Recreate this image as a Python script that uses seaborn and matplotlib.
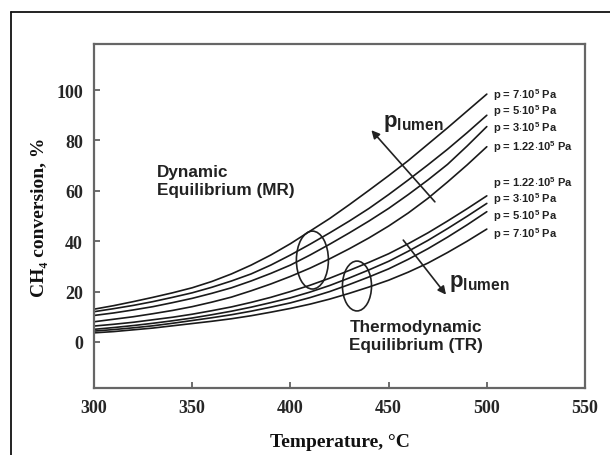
import numpy as np
import pandas as pd
import matplotlib
matplotlib.use("Agg")
import matplotlib.pyplot as plt
from matplotlib.patches import Ellipse
from matplotlib.lines import Line2D
import seaborn as sns

# ---- data ----
temperature = [300, 310, 320, 330, 340, 350, 360, 370, 380, 390, 400,
               410, 420, 430, 440, 450, 460, 470, 480, 490, 500]
mr_7e5 = [13.0, 14.4, 16.0, 17.7, 19.5, 21.5, 24.0, 27.0, 30.5, 34.5, 39.0,
          44.0, 49.0, 54.5, 60.2, 66.0, 72.0, 78.5, 85.0, 91.7, 98.4]
mr_5e5 = [12.0, 13.2, 14.5, 16.0, 17.7, 19.5, 21.7, 24.2, 27.0, 30.5, 34.5,
          38.8, 43.3, 48.0, 53.0, 58.5, 64.3, 70.3, 76.5, 83.1, 90.0]
mr_3e5 = [10.5, 11.5, 12.7, 14.0, 15.6, 17.3, 19.3, 21.5, 24.2, 27.2, 30.5,
          34.5, 38.8, 43.3, 48.0, 53.0, 58.5, 64.3, 70.5, 77.8, 85.5]
mr_122e5 = [8.0, 9.0, 10.0, 11.2, 12.5, 14.0, 15.8, 17.8, 20.3, 23.0, 26.0,
            29.3, 33.0, 37.0, 41.3, 46.0, 51.2, 57.0, 63.5, 70.3, 77.5]
tr_122e5 = [6.3, 7.0, 7.8, 8.8, 9.8, 11.0, 12.4, 13.9, 15.7, 17.7, 20.0,
            22.5, 25.3, 28.4, 31.6, 35.0, 39.0, 43.3, 48.0, 52.9, 58.0]
tr_3e5 = [5.0, 5.7, 6.5, 7.4, 8.4, 9.5, 10.8, 12.2, 13.8, 15.6, 17.5,
          19.8, 22.4, 25.4, 28.6, 32.0, 36.0, 40.3, 45.0, 49.9, 55.0]
tr_5e5 = [4.3, 4.9, 5.6, 6.4, 7.4, 8.5, 9.6, 10.8, 12.2, 13.8, 15.5,
          17.6, 20.0, 22.8, 25.8, 29.0, 32.8, 37.0, 41.6, 46.5, 51.7]
tr_7e5 = [3.6, 4.1, 4.8, 5.5, 6.4, 7.3, 8.2, 9.2, 10.4, 11.8, 13.3,
          15.0, 17.0, 19.3, 21.8, 24.5, 27.7, 31.3, 35.5, 40.0, 44.8]

series_names = ["MR 7e5", "MR 5e5", "MR 3e5", "MR 1.22e5",
                "TR 1.22e5", "TR 3e5", "TR 5e5", "TR 7e5"]
series_values = [mr_7e5, mr_5e5, mr_3e5, mr_122e5,
                 tr_122e5, tr_3e5, tr_5e5, tr_7e5]

mr_labels = [r"p = 7$\cdot$10$^{5}$ Pa", r"p = 5$\cdot$10$^{5}$ Pa",
             r"p = 3$\cdot$10$^{5}$ Pa", r"p = 1.22$\cdot$10$^{5}$ Pa"]
tr_labels = [r"p = 1.22$\cdot$10$^{5}$ Pa", r"p = 3$\cdot$10$^{5}$ Pa",
             r"p = 5$\cdot$10$^{5}$ Pa", r"p = 7$\cdot$10$^{5}$ Pa"]
mr_label_y = [98.6, 92.0, 85.3, 77.6]
tr_label_y = [63.6, 57.1, 50.3, 43.3]

x_ticks = [300, 350, 400, 450, 500, 550]
y_ticks = [0, 20, 40, 60, 80, 100]

rows = []
for name, vals in zip(series_names, series_values):
    for t, v in zip(temperature, vals):
        rows.append({"T": t, "conv": v, "series": name})
df = pd.DataFrame(rows)

sns.set_style("ticks")
plt.rcParams["mathtext.fontset"] = "custom"
plt.rcParams["mathtext.rm"] = "Liberation Sans:bold"
plt.rcParams["mathtext.bf"] = "Liberation Sans:bold"
plt.rcParams["mathtext.it"] = "Liberation Sans:bold"
plt.rcParams["mathtext.default"] = "rm"

fig = plt.figure(figsize=(6.1, 4.56), dpi=100)
ax = fig.add_axes([94/610, 1-389/456, (585-94)/610, (389-45)/456])

sns.lineplot(data=df, x="T", y="conv", hue="series", hue_order=series_names,
             palette=["#1a1a1a"]*8, linewidth=1.2, legend=False, ax=ax)

ax.set_xlim(300, 550)
ax.set_ylim(-18.3, 118.3)
ax.set_xticks(x_ticks)
ax.set_yticks(y_ticks)
serif = ["Liberation Serif", "DejaVu Serif"]
ax.set_xticklabels([str(v) for v in x_ticks], fontfamily=serif, fontweight="bold", fontsize=13)
ax.set_yticklabels([str(v) for v in y_ticks], fontfamily=serif, fontweight="bold", fontsize=13)
ax.tick_params(direction="in", length=4, width=1.2, color="#555555", pad=8)
for s in ax.spines.values():
    s.set_color("#666666")
    s.set_linewidth(1.6)

ax.set_xlabel("Temperature, °C", fontfamily=serif, fontweight="bold", fontsize=14, labelpad=12)
ax.set_ylabel("CH\u2084 conversion, %", fontfamily=serif, fontweight="bold", fontsize=14, labelpad=6)
ax.xaxis.label.set_color("#111111")
ax.yaxis.label.set_color("#111111")

sans = ["Liberation Sans", "DejaVu Sans"]
for lab, y in zip(mr_labels, mr_label_y):
    ax.text(503, y, lab, fontfamily=sans, fontweight="bold", fontsize=8, va="center", ha="left", color="#222222")
for lab, y in zip(tr_labels, tr_label_y):
    ax.text(503, y, lab, fontfamily=sans, fontweight="bold", fontsize=8, va="center", ha="left", color="#222222")

ax.text(332, 70.5, "Dynamic\nEquilibrium (MR)", fontfamily=sans, fontweight="bold",
        fontsize=12.3, va="top", ha="left", color="#222222", linespacing=1.25)
ax.text(430, 9.0, "Thermodynamic\nEquilibrium (TR)", fontfamily=sans, fontweight="bold",
        fontsize=12.3, va="top", ha="left", color="#222222", linespacing=1.25)

ax.add_patch(Ellipse((411.2, 32.5), 16.3, 23, fill=False, edgecolor="#222222", lw=1.2))
ax.add_patch(Ellipse((433.9, 22.2), 14.8, 19.8, fill=False, edgecolor="#222222", lw=1.2))

ax.annotate("", xy=(440.3, 84.9), xytext=(474.5, 54.8),
            arrowprops=dict(arrowstyle="-|>", color="#222222", lw=1.2, mutation_scale=12))
ax.annotate("", xy=(480.1, 17.9), xytext=(456.6, 41.3),
            arrowprops=dict(arrowstyle="-|>", color="#222222", lw=1.2, mutation_scale=12))
ax.text(447, 87, r"p$_{\mathrm{lumen}}$", fontfamily=sans, fontweight="bold",
        fontsize=16, va="center", ha="left", color="#222222")
ax.text(480.5, 23.5, r"p$_{\mathrm{lumen}}$", fontfamily=sans, fontweight="bold",
        fontsize=16, va="center", ha="left", color="#222222")

# outer frame (cropped at right and bottom)
fig.add_artist(Line2D([11/610, 11/610], [0, 1-13/456], transform=fig.transFigure, color="#111111", lw=1.3))
fig.add_artist(Line2D([11/610, 1], [1-13/456, 1-13/456], transform=fig.transFigure, color="#111111", lw=1.3))

fig.savefig("out.png", dpi=100)
